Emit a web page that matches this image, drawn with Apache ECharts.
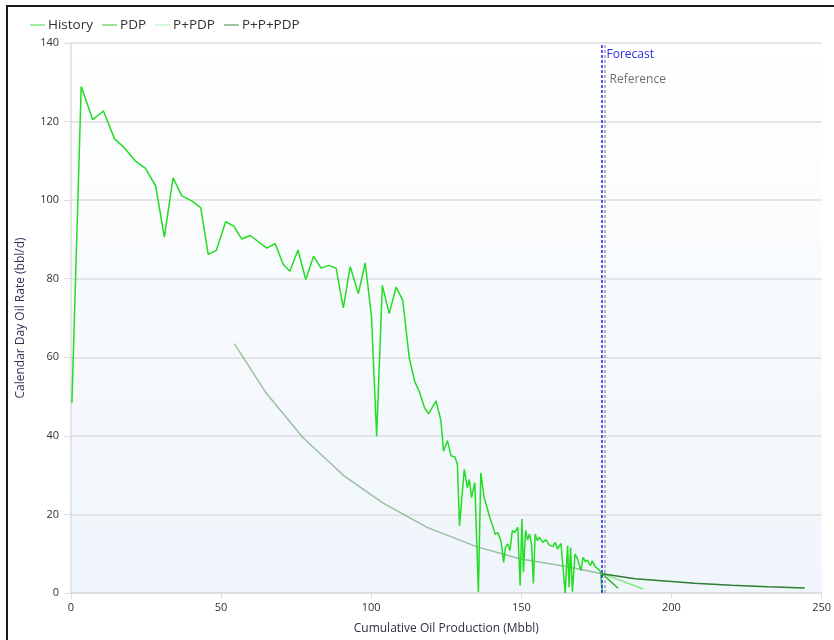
<!DOCTYPE html>
<html>
<head>
<meta charset="utf-8">
<script src="https://cdn.jsdelivr.net/npm/echarts@6/dist/echarts.min.js"></script>
<style>
  html, body { margin: 0; padding: 0; background: #fff; }
  #chart { width: 834px; height: 640px; }
</style>
</head>
<body>
<div id="chart"></div>
<script>
// history: cumulative production (Mbbl) vs calendar day rate (bbl/d)
var historyX = [0.3, 3.4, 7.2, 10.8, 14.5, 17.8, 21.7, 24.8, 28.2, 31.1, 34.0, 36.9, 40.2, 43.2, 45.7, 48.4, 51.5, 54.2, 56.9, 59.7,
  65.2, 68.0, 70.7, 72.9, 75.6, 78.2, 80.8, 83.3, 85.9, 88.3, 90.7, 93.0, 95.7, 98.0, 100.1, 101.8, 103.7, 106.0, 108.3, 110.5,
  112.7, 114.5, 116.0, 117.8, 119.1, 121.6, 123.2, 124.1, 125.4, 126.6, 127.9, 128.7, 129.4, 131.0, 132.0, 132.7, 133.4, 134.5, 135.1, 135.7,
  136.5, 137.6, 138.4, 139.5, 140.6, 141.3, 142.2, 143.3, 144.1, 144.7, 145.5, 146.2, 147.0, 147.7, 148.8, 149.6, 150.2, 150.7, 151.4, 152.1,
  152.7, 153.4, 154.0, 154.6, 155.4, 156.0, 156.5, 157.1, 157.6, 158.2, 158.8, 159.3, 159.8, 160.5, 161.3, 162.0, 162.6, 163.2, 163.7, 164.6,
  165.4, 165.9, 166.4, 167.0, 167.9, 168.8, 169.8, 170.6, 171.3, 172.0, 172.5, 173.0, 173.6, 174.1, 174.7, 175.2, 175.8, 176.4, 176.9];
var historyY = [48.4, 128.9, 120.5, 122.7, 115.6, 113.3, 109.8, 108.1, 103.6, 90.6, 105.7, 101.1, 99.8, 98.1, 86.2, 87.2, 94.5, 93.4, 90.1, 91.0,
  87.8, 88.9, 83.6, 81.9, 87.3, 79.8, 85.7, 82.7, 83.4, 82.7, 72.6, 83.1, 76.2, 84.0, 70.3, 39.9, 78.3, 71.1, 77.9, 74.5,
  59.7, 53.8, 51.3, 47.1, 45.6, 48.9, 43.9, 36.1, 38.8, 34.9, 34.6, 32.7, 17.1, 31.5, 26.8, 28.9, 24.3, 28.1, 28.5, 0.2,
  30.6, 24.3, 22.2, 19.2, 16.7, 14.9, 15.4, 12.9, 7.8, 11.6, 12.5, 10.8, 15.9, 15.4, 16.7, 1.9, 18.8, 5.3, 15.9, 13.5,
  15.0, 12.4, 2.4, 15.0, 13.3, 14.2, 14.6, 12.9, 12.5, 13.6, 13.8, 12.2, 12.5, 11.8, 12.9, 11.2, 11.6, 12.6, 12.1, 0.0,
  12.1, 1.5, 11.6, 0.3, 10.0, 8.5, 5.7, 9.1, 8.0, 8.4, 7.6, 7.0, 8.2, 7.8, 6.6, 6.2, 6.0, 5.3, 0.3];

// forecasts
var pdpX = [176.8, 182.2];
var pdpY = [5.0, 1.2];
var ppdpX = [176.8, 190.6];
var ppdpY = [5.0, 1.0];
var pppdpX = [176.8, 187.9, 198.9, 207.7, 220.0, 232.0, 244.4];
var pppdpY = [4.9, 3.6, 3.0, 2.5, 2.0, 1.6, 1.3];

// faint fitted curve through the history period
var fitX = [54.4, 64.6, 77.3, 91.0, 103.7, 118.6, 135.1, 149.4, 165.9, 176.8];
var fitY = [63.5, 51.3, 39.5, 29.8, 23.0, 16.7, 11.8, 8.7, 6.6, 4.9];

var forecastAt = 176.7;
var referenceAt = 177.7;

function pairs(xs, ys) {
  return xs.map(function (x, i) { return [x, ys[i]]; });
}

var chart = echarts.init(document.getElementById('chart'));
var font = 'Open Sans, Noto Sans, sans-serif';

var option = {
  backgroundColor: '#ffffff',
  animation: false,
  textStyle: { fontFamily: font },
  legend: {
    left: 25,
    top: 13,
    itemWidth: 15,
    itemHeight: 10,
    itemGap: 9,
    icon: 'path://M0,4.5 L16,4.5 L16,5.5 L0,5.5 Z',
    textStyle: { fontSize: 13.5, color: '#333', fontFamily: font, padding: [0, 0, 0, -2] },
    data: ['History', 'PDP', 'P+PDP', 'P+P+PDP']
  },
  graphic: [{
    type: 'rect',
    shape: { x: 7, y: 6, width: 900, height: 700 },
    style: { fill: 'none', stroke: '#1a1a1a', lineWidth: 2 },
    silent: true
  }],
  grid: {
    left: 71,
    right: 6,
    top: 43,
    bottom: 44,
    show: true,
    borderWidth: 0,
    backgroundColor: new echarts.graphic.LinearGradient(0, 0, 0, 1, [
      { offset: 0, color: '#ffffff' },
      { offset: 1, color: '#eff5fb' }
    ])
  },
  xAxis: {
    type: 'value',
    min: 0,
    max: 250,
    interval: 50,
    name: 'Cumulative Oil Production (Mbbl)',
    nameLocation: 'middle',
    nameGap: 30,
    nameTextStyle: { color: '#2e2e40', fontSize: 12 },
    axisLine: { show: true, lineStyle: { color: '#dcdcdc', width: 1.5 } },
    axisTick: { show: true, length: 6, lineStyle: { color: '#dcdcdc' } },
    axisLabel: { color: '#333', fontSize: 11, margin: 9 },
    splitLine: { show: false }
  },
  yAxis: {
    type: 'value',
    min: 0,
    max: 140,
    interval: 20,
    name: 'Calendar Day Oil Rate (bbl/d)',
    nameLocation: 'middle',
    nameGap: 44,
    nameTextStyle: { color: '#3b2f58', fontSize: 12 },
    axisLine: { show: true, lineStyle: { color: '#dcdcdc', width: 1.5 } },
    axisTick: { show: true, length: 7, lineStyle: { color: '#dcdcdc' } },
    axisLabel: { color: '#333', fontSize: 11, margin: 12 },
    splitLine: { show: true, lineStyle: { color: '#dedede', width: 1.5 } }
  },
  series: [
    {
      name: 'fit',
      type: 'line',
      symbol: 'none',
      silent: true,
      data: pairs(fitX, fitY),
      lineStyle: { color: '#2e7d32', width: 1.5, opacity: 0.45 },
      z: 1
    },
    {
      name: 'History',
      type: 'line',
      symbol: 'none',
      color: '#33dd33',
      data: pairs(historyX, historyY),
      lineStyle: { color: '#22dd22', width: 1.5 },
      z: 3,
      markLine: {
        silent: true,
        symbol: 'none',
        label: { show: false },
        data: [
          { xAxis: forecastAt, lineStyle: { color: '#1f1fff', type: [3, 2], width: 1.5 } },
          { xAxis: referenceAt, lineStyle: { color: '#a0a0a0', type: [3, 2], width: 1.5 } }
        ]
      },
      markPoint: {
        silent: true,
        symbolSize: 0,
        data: [
          { name: 'Forecast', coord: [forecastAt, 137], label: { color: '#2a2aee' } },
          { name: 'Reference', coord: [referenceAt, 130.6], label: { color: '#707070' } }
        ],
        label: { show: true, position: 'right', distance: 5, formatter: '{b}', fontSize: 12, fontFamily: font }
      }
    },
    {
      name: 'PDP',
      type: 'line',
      symbol: 'none',
      color: '#28c228',
      data: pairs(pdpX, pdpY),
      lineStyle: { color: '#28b828', width: 1.5 },
      z: 4
    },
    {
      name: 'P+PDP',
      type: 'line',
      symbol: 'none',
      color: '#a6eea6',
      data: pairs(ppdpX, ppdpY),
      lineStyle: { color: '#7ee87e', width: 1.5 },
      z: 4
    },
    {
      name: 'P+P+PDP',
      type: 'line',
      symbol: 'none',
      color: '#347a34',
      data: pairs(pppdpX, pppdpY),
      lineStyle: { color: '#2e7d32', width: 1.5 },
      z: 4
    }
  ]
};

chart.setOption(option);
</script>
</body>
</html>
